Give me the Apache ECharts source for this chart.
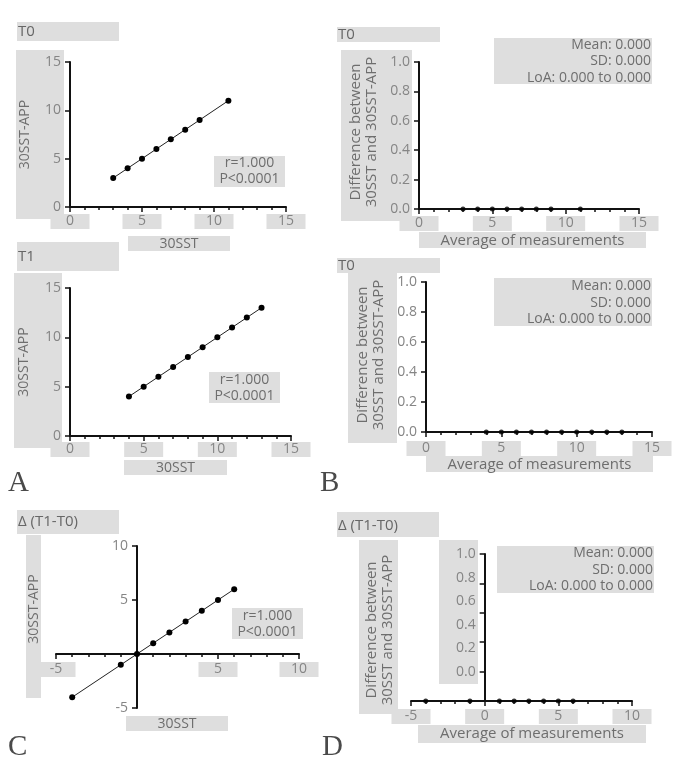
<!DOCTYPE html>
<html><head><meta charset="utf-8">
<script src="https://cdn.jsdelivr.net/npm/echarts@6/dist/echarts.min.js"></script>
<style>html,body{margin:0;padding:0;background:#fff}#c{width:677px;height:769px}</style>
</head><body><div id="c"></div><script>
// ---- data ----
const t0X = [3, 4, 5, 6, 7, 8, 9, 11];
const t0Y = [3, 4, 5, 6, 7, 8, 9, 11];
const t1X = [4, 5, 6, 7, 8, 9, 10, 11, 12, 13];
const t1Y = [4, 5, 6, 7, 8, 9, 10, 11, 12, 13];
const deltaX = [-4, -1, 0, 1, 2, 3, 4, 5, 6];
const deltaY = [-4, -1, 0, 1, 2, 3, 4, 5, 6];
const baT0Avg = [3, 4, 5, 6, 7, 8, 9, 11];
const baT0Diff = [0, 0, 0, 0, 0, 0, 0, 0];
const baT1Avg = [4, 5, 6, 7, 8, 9, 10, 11, 12, 13];
const baT1Diff = [0, 0, 0, 0, 0, 0, 0, 0, 0, 0];
const baDeltaAvg = [-4, -1, 1, 2, 3, 4, 5, 6];
const baDeltaDiff = [-0.25, -0.25, -0.25, -0.25, -0.25, -0.25, -0.25, -0.25]; // drawn on the lower axis line in the reference
const corrText = ['r=1.000', 'P<0.0001'];
const baStats = ['Mean: 0.000', 'SD: 0.000', 'LoA: 0.000 to 0.000'];
const panelTitles = ['T0', 'T1', 'Δ (T1-T0)', 'T0', 'T0', 'Δ (T1-T0)'];
const panelLetters = ['A', 'B', 'C', 'D'];
const corrXName = '30SST', corrYName = '30SST-APP';
const baXName = 'Average of measurements';
const baYName = ['Difference between', '30SST and 30SST-APP'];
const xTicksDelta = [-5, 5, 10];
const yTicksDelta = [-5, 5, 10];
const yTicksBA = [0, 0.2, 0.4, 0.6, 0.8, 1.0];
const yTickMarksBAD = [0, 0.25, 0.5, 0.75, 1.0];

// ---- style ----
const FONT = '"Open Sans", sans-serif';
const TICK_C = '#858585', TXT_C = '#6e6e6e', BOX = '#dedede', AX = '#111';

const zip = (a, b) => a.map((v, i) => [v, b[i]]);

const grids = [
  { left: 70, top: 62, width: 216, height: 145 },
  { left: 70, top: 288, width: 221, height: 148 },
  { left: 56, top: 546, width: 243, height: 162 },
  { left: 419, top: 62, width: 220, height: 147 },
  { left: 426, top: 282, width: 226, height: 150 },
  { left: 411, top: 554, width: 221, height: 147 }
];

function xAxisOpt(gi, min, max, o = {}) {
  return {
    type: 'value', gridIndex: gi, min, max, interval: 5, offset: o.offset || 0,
    axisLine: { show: true, onZero: false, lineStyle: { color: AX, width: 2 } },
    axisTick: { show: true, length: 5, lineStyle: { color: AX, width: 1.5 } },
    minorTick: { show: true, splitNumber: 5, length: 3, lineStyle: { color: AX, width: 1.5 } },
    splitLine: { show: false }, minorSplitLine: { show: false },
    axisLabel: {
      color: TICK_C, fontFamily: FONT, fontSize: 14, margin: o.margin || 7,
      width: 39, height: 15, lineHeight: 15, backgroundColor: BOX,
      align: 'center', verticalAlign: 'top', customValues: o.labels
    }
  };
}
function yAxisOpt(gi, min, max, interval, o = {}) {
  return {
    type: 'value', gridIndex: gi, min, max, interval, offset: o.offset || 0,
    axisLine: { show: true, onZero: false, lineStyle: { color: AX, width: 2 } },
    axisTick: { show: true, length: 5, lineStyle: { color: AX, width: 1.5 }, customValues: o.ticks },
    splitLine: { show: false },
    axisLabel: {
      color: TICK_C, fontFamily: FONT, fontSize: 14, margin: o.margin || 9,
      customValues: o.labels, formatter: o.fmt
    }
  };
}
const fmt1 = v => Number(v).toFixed(1);
// shift an axis so that it crosses the other axis at value 0
const zeroShiftX = (gi, min, max) => -grids[gi].width * (0 - min) / (max - min);
const zeroShiftY = (gi, min, max) => -grids[gi].height * (0 - min) / (max - min);

const xAxes = [
  xAxisOpt(0, 0, 15),
  xAxisOpt(1, 0, 15, { margin: 6 }),
  xAxisOpt(2, -5, 10, { labels: xTicksDelta, margin: 8, offset: zeroShiftY(2, -5, 10) }),
  xAxisOpt(3, 0, 15),
  xAxisOpt(4, 0, 15, { margin: 9 }),
  xAxisOpt(5, -5, 10, { margin: 8 })
];
const yAxes = [
  yAxisOpt(0, 0, 15, 5),
  yAxisOpt(1, 0, 15, 5),
  yAxisOpt(2, -5, 10, 5, { labels: yTicksDelta, offset: zeroShiftX(2, -5, 10) }),
  yAxisOpt(3, 0, 1, 0.2, { fmt: fmt1 }),
  yAxisOpt(4, 0, 1, 0.2, { fmt: fmt1 }),
  yAxisOpt(5, -0.25, 1, 0.25, { fmt: fmt1, labels: yTicksBA, ticks: yTickMarksBAD, offset: zeroShiftX(5, -5, 10) })
];

function corrSeries(i, xs, ys) {
  return {
    type: 'line', xAxisIndex: i, yAxisIndex: i, data: zip(xs, ys),
    symbol: 'circle', symbolSize: 6, showSymbol: true,
    itemStyle: { color: '#000' }, lineStyle: { color: '#222', width: 1 }, z: 5
  };
}
function baSeries(i, xs, ys) {
  return {
    type: 'scatter', xAxisIndex: i, yAxisIndex: i, data: zip(xs, ys),
    symbol: 'circle', symbolSize: 5, itemStyle: { color: '#000' }, z: 5
  };
}

// ---- decorative boxes and texts ----
const g = [];
function rect(x, y, w, h) {
  g.push({ type: 'rect', shape: { x, y, width: w, height: h }, style: { fill: BOX }, z: -10, silent: true });
}
function text(x, y, str, o = {}) {
  g.push({
    type: 'text', x, y, rotation: o.rot ? Math.PI / 2 : 0, z: 10, silent: true,
    style: {
      text: str, fill: o.color || TXT_C, fontSize: o.size || 14, fontFamily: o.family || FONT,
      align: o.align || 'center', verticalAlign: 'middle', textAlign: o.align || 'center', textVerticalAlign: 'middle',
      lineHeight: o.lh || 16
    }
  });
}
// Panel A top
rect(17, 22, 102, 19); text(18, 32, panelTitles[0], { align: 'left', size: 15, color: '#666' });
rect(16, 50, 48, 169); text(25, 134.5, corrYName, { rot: true });
rect(128, 236, 102, 15); text(179, 244, corrXName);
rect(214, 156, 71, 31); text(249.5, 171.5, corrText.join('\n'));
// Panel A bottom
rect(17, 242, 102, 29); text(18, 257, panelTitles[1], { align: 'left', size: 15, color: '#666' });
rect(14, 273, 48, 175); text(24, 362, corrYName, { rot: true });
rect(124, 460, 103, 15); text(175.5, 468, corrXName);
rect(209, 372, 71, 31); text(244.5, 388, corrText.join('\n'));
// Panel C
rect(17, 510, 102, 24); text(18, 522, panelTitles[2], { align: 'left', size: 15, color: '#666' });
rect(26, 535, 15, 163); text(34, 609, corrYName, { rot: true });
rect(126, 716, 102, 15); text(177, 724, corrXName);
rect(232, 608, 71, 31); text(267.5, 624, corrText.join('\n'));
// Panel B top
rect(337, 27, 103, 15); text(338, 35, panelTitles[3], { align: 'left', size: 15, color: '#666' });
rect(341, 50, 71, 171); text(364, 132, baYName.join('\n'), { rot: true, size: 15, lh: 16 });
rect(494, 38, 158, 46); text(651, 61.5, baStats.join('\n'), { align: 'right', lh: 16.5 });
rect(419, 232, 227, 16); text(532.5, 240.5, baXName, { size: 15 });
// Panel B bottom
rect(337, 258, 103, 15); text(338, 266, panelTitles[4], { align: 'left', size: 15, color: '#666' });
rect(348, 272, 49, 171); text(371, 355, baYName.join('\n'), { rot: true, size: 15, lh: 16 });
rect(494, 278, 158, 48); text(651, 303, baStats.join('\n'), { align: 'right', lh: 16.5 });
rect(426, 456, 227, 16); text(539.5, 464.5, baXName, { size: 15 });
// Panel D
rect(337, 512, 102, 25); text(338, 526, panelTitles[5], { align: 'left', size: 15, color: '#666' });
rect(359, 540, 39, 174); text(380, 630, baYName.join('\n'), { rot: true, size: 15, lh: 16 });
rect(439, 540, 39, 144);
rect(497, 546, 157, 47); text(653, 570, baStats.join('\n'), { align: 'right', lh: 16.5 });
rect(418, 725, 228, 18); text(532, 734, baXName, { size: 15 });
// Panel letters
const letterPos = [[8, 483], [320, 483], [8, 747], [322, 747]];
panelLetters.forEach((L, i) => text(letterPos[i][0], letterPos[i][1], L, { align: 'left', size: 29, family: '"Liberation Serif", serif', color: '#4a4a4a' }));

const chart = echarts.init(document.getElementById('c'), null, { renderer: 'canvas' });
chart.setOption({
  animation: false,
  backgroundColor: '#fff',
  grid: grids,
  xAxis: xAxes,
  yAxis: yAxes,
  series: [
    corrSeries(0, t0X, t0Y),
    corrSeries(1, t1X, t1Y),
    corrSeries(2, deltaX, deltaY),
    baSeries(3, baT0Avg, baT0Diff),
    baSeries(4, baT1Avg, baT1Diff),
    baSeries(5, baDeltaAvg, baDeltaDiff)
  ],
  graphic: g
});
</script></body></html>
